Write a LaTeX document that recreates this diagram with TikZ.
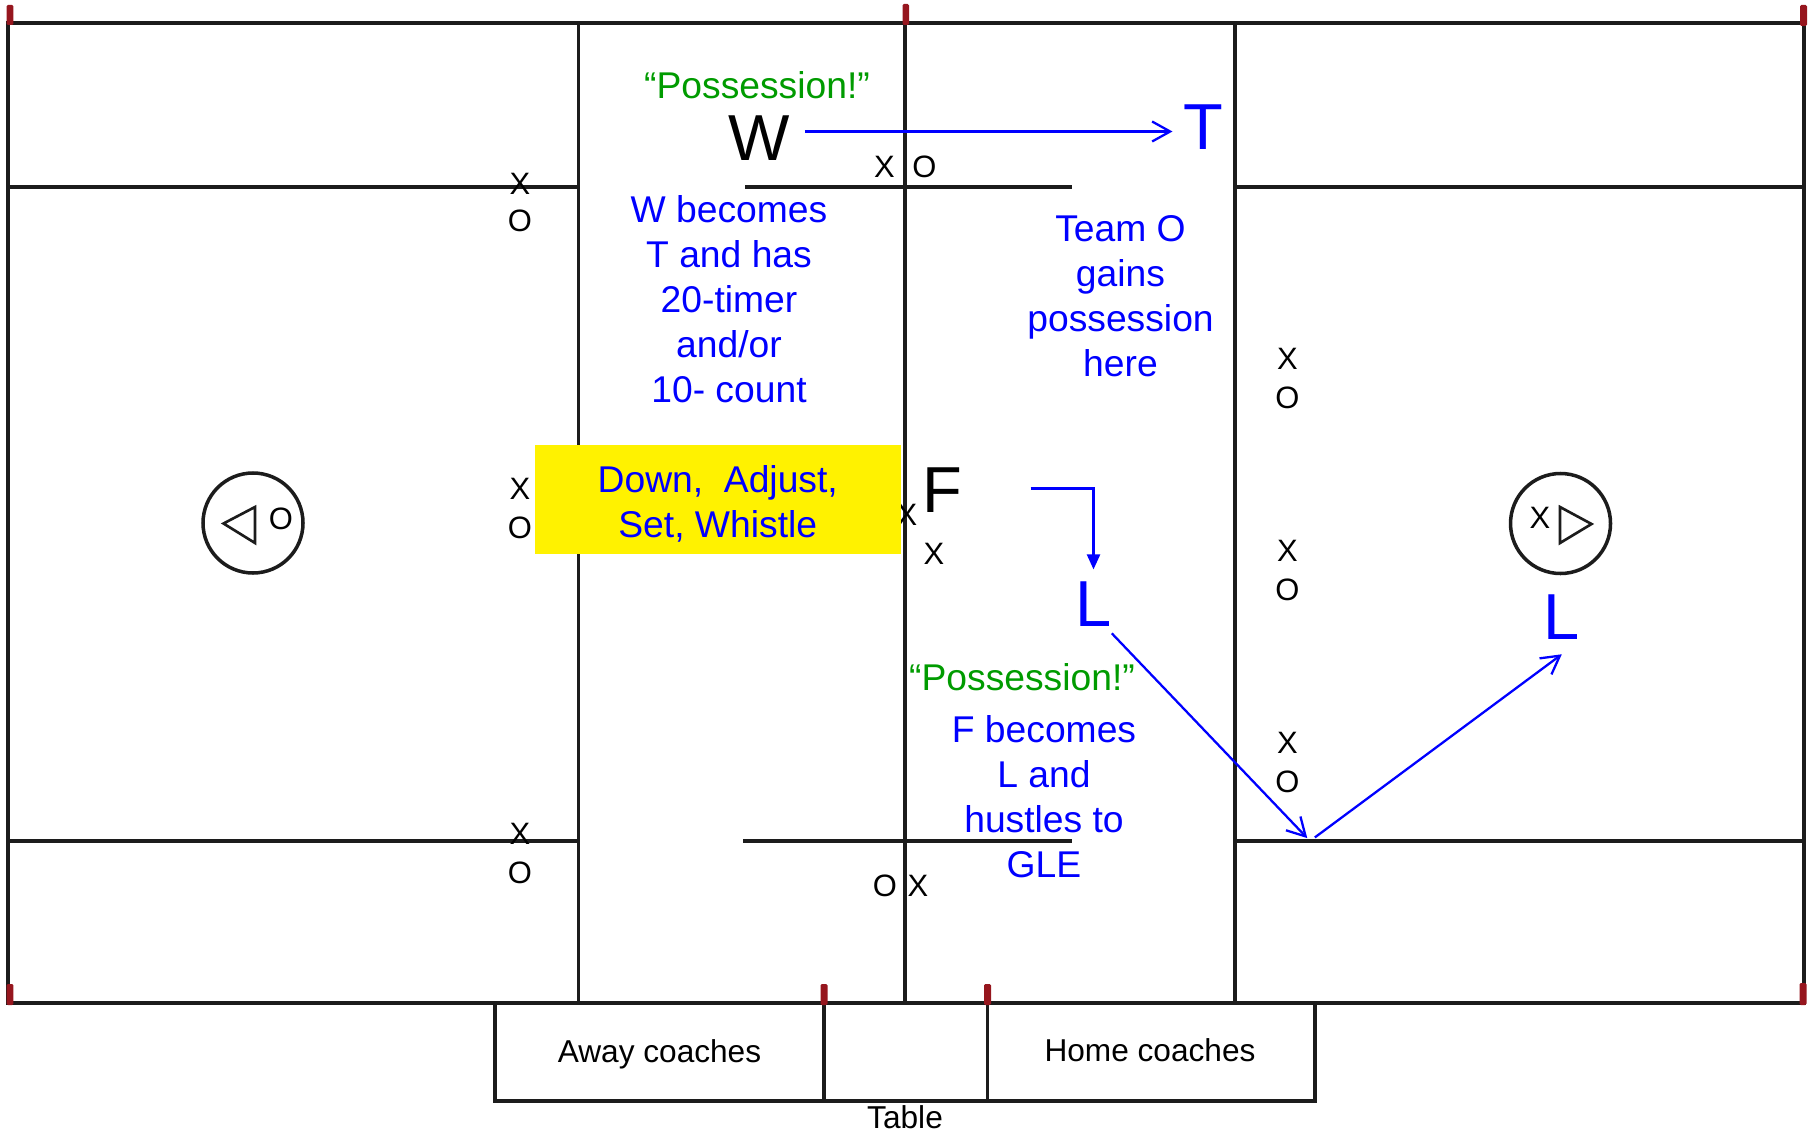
\documentclass[tikz,border=0pt]{standalone}
\usepackage{fontspec}
\setmainfont{Liberation Sans}
\usetikzlibrary{arrows.meta}

\definecolor{callgreen}{RGB}{0,155,0}
\definecolor{postred}{RGB}{150,22,30}
\definecolor{courtline}{RGB}{28,28,28}

\begin{document}
\begin{tikzpicture}[y=-1cm,
    court/.style={draw=courtline, line width=1pt},
    post/.style={fill=postred, rounded corners=0.4pt},
    player/.style={inner sep=0pt, font=\fontsize{8.8}{10}\selectfont},
    call/.style={inner sep=0pt, text=callgreen, font=\fontsize{10.6}{12.8}\selectfont},
    note/.style={inner sep=0pt, text=blue, align=center, font=\fontsize{10.6}{12.8}\selectfont},
    ref/.style={inner sep=0pt, font=\fontsize{18.5}{21}\selectfont},
    newref/.style={inner sep=0pt, text=blue, font=\fontsize{18.5}{21}\selectfont},
    tablelabel/.style={inner sep=0pt, font=\fontsize{9}{11}\selectfont},
    pass/.style={draw=blue, line width=0.65pt, -{Straight Barb[length=0.18cm, width=0.2cm]}},
    turn/.style={draw=blue, line width=0.65pt, -{Triangle[length=0.15cm, width=0.13cm]}}]

    \useasboundingbox (0, 0) rectangle (18.14, 11.32);

    %% Court

    % Boundary and lines
    \draw[court] (0.08, 0.23) rectangle (18.04, 10.03);
    \draw[court] (5.785, 0.23) -- (5.785, 10.03);
    \draw[court] (9.05, 0.23) -- (9.05, 10.03);
    \draw[court] (12.35, 0.23) -- (12.35, 10.03);
    \draw[court] (0.08, 1.87) -- (5.785, 1.87);
    \draw[court] (0.08, 8.41) -- (5.785, 8.41);
    \draw[court] (12.35, 1.87) -- (18.04, 1.87);
    \draw[court] (12.35, 8.41) -- (18.04, 8.41);
    \draw[court] (7.45, 1.87) -- (10.72, 1.87);
    \draw[court] (7.43, 8.41) -- (10.72, 8.41);

    % Table
    \draw[court] (4.95, 10.03) rectangle (13.15, 11.01);
    \draw[court] (8.24, 10.03) -- (8.24, 11.01);
    \draw[court] (9.875, 10.03) -- (9.875, 11.01);
    \node[tablelabel] (away) at (6.595, 10.54) {Away coaches};
    \node[tablelabel] (home) at (11.50, 10.50) {Home coaches};
    \node[tablelabel] (table) at (9.05, 11.17) {Table};

    % Posts
    \fill[post] (0.065, 0.05) rectangle (0.135, 0.25);
    \fill[post] (9.025, 0.04) rectangle (9.09, 0.25);
    \fill[post] (18.0, 0.05) rectangle (18.07, 0.26);
    \fill[post] (0.065, 9.84) rectangle (0.135, 10.05);
    \fill[post] (8.205, 9.84) rectangle (8.275, 10.05);
    \fill[post] (9.84, 9.84) rectangle (9.91, 10.05);
    \fill[post] (17.995, 9.83) rectangle (18.065, 10.05);

    % Centre circles
    \draw[court] (2.53, 5.23) circle (0.50);
    \draw[court, line width=0.75pt] (2.235, 5.235) -- (2.55, 5.07) -- (2.55, 5.43) -- cycle;
    \node[player] (co) at (2.81, 5.19) {O};
    \draw[court] (15.605, 5.235) circle (0.50);
    \draw[court, line width=0.75pt] (15.915, 5.24) -- (15.60, 5.07) -- (15.60, 5.43) -- cycle;
    \node[player] (cx) at (15.40, 5.18) {X};

    %% Players

    % Left team
    \node[player] (x1) at (5.20, 1.84) {X};
    \node[player] (o1) at (5.20, 2.21) {O};
    \node[player] (x2) at (5.20, 4.89) {X};
    \node[player] (o2) at (5.20, 5.28) {O};
    \node[player] (x3) at (5.20, 8.34) {X};
    \node[player] (o3) at (5.20, 8.73) {O};

    % Right team
    \node[player] (x4) at (12.875, 3.585) {X};
    \node[player] (o4) at (12.875, 3.975) {O};
    \node[player] (x5) at (12.875, 5.51) {X};
    \node[player] (o5) at (12.875, 5.90) {O};
    \node[player] (x6) at (12.875, 7.425) {X};
    \node[player] (o6) at (12.875, 7.815) {O};

    % Centre
    \node[player] (x7) at (8.845, 1.67) {X};
    \node[player] (o7) at (9.245, 1.67) {O};
    \node[player] (o8) at (8.85, 8.86) {O};
    \node[player] (x8) at (9.18, 8.86) {X};
    \node[player] (x9) at (9.34, 5.535) {X};
    \node[player] (x10) at (9.07, 5.15) {X};

    % Whistle box
    \node[fill=yellow, inner sep=0pt, minimum width=3.665cm, minimum height=1.09cm] (whistle) at (7.1775, 4.995) {};
    \node[note] (whistletext) at (7.1775, 5.035) {Down,\ \ Adjust,\\Set, Whistle};

    %% Officials

    % W becomes T
    \node[call] (callW) at (7.57, 0.85) {“Possession!”};
    \node[ref] (W) at (7.595, 1.385) {W};
    \node[newref] (T) at (12.03, 1.275) {T};
    \coordinate (passline) at (0, 1.315);
    \draw[pass, shorten <=0.14cm, shorten >=0.1cm] (W.east |- passline) -- (T.west |- passline);
    \node[note] (noteW) at (7.29, 2.99) {W becomes\\T and has\\20-timer\\and/or\\10- count};
    \node[note] (noteO) at (11.205, 2.96) {Team O\\gains\\possession\\here};

    % F becomes L
    \node[ref] (F) at (9.42, 4.905) {F};
    \node[newref] (L) at (10.935, 6.045) {L};
    \coordinate (turnline) at (0, 4.885);
    \draw[turn, shorten <=0.68cm, shorten >=0.12cm] (F.east |- turnline) -| (L.north);
    \node[call] (callF) at (10.22, 6.77) {“Possession!”};
    \node[note] (noteF) at (10.44, 7.965) {F becomes\\L and\\hustles to\\GLE};

    % Hustle to GLE and up
    \node[newref] (L2) at (15.615, 6.175) {L};
    \coordinate (gle) at (13.10, 8.41);
    \draw[pass, shorten <=0.08cm, shorten >=0.04cm] ([xshift=-0.06cm]L.south east) -- (gle);
    \draw[pass, shorten <=0.06cm, shorten >=0.23cm] (gle) -- (L2.south east);

\end{tikzpicture}
\end{document}
